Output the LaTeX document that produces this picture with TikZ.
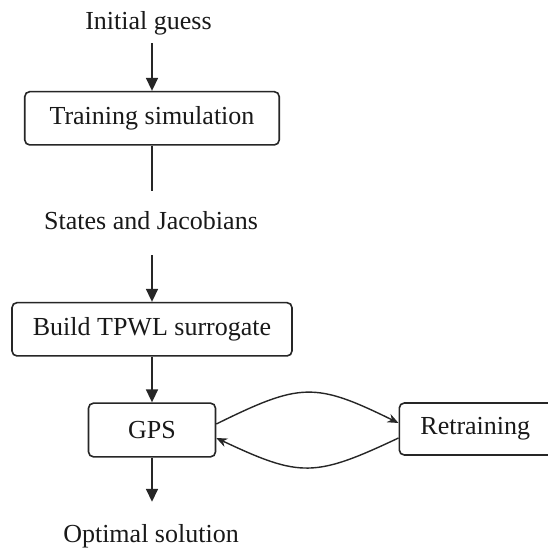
\documentclass[tikz,border=0pt]{standalone}
\usepackage{fontspec}
\setmainfont{Liberation Serif}
\usetikzlibrary{arrows.meta}
\begin{document}
\begin{tikzpicture}[x=1pt,y=1pt,
  every node/.style={font=\fontsize{26pt}{30pt}\selectfont, text=black!90},
  box/.style={draw=black!85, line width=1.6pt, rounded corners=5pt, inner sep=0pt},
  label/.style={inner sep=0pt, text height=18pt, text depth=6pt, anchor=base},
  conn/.style={draw=black!85, line width=1.6pt},
  arr/.style={conn, -{Triangle[length=13pt,width=12pt]}},
  carr/.style={conn, line width=1.4pt, -{Stealth[length=11pt,width=9pt]}}]
\clip (0,0) rectangle (548,552);
\fill[white] (0,0) rectangle (548,552);
% nodes
\node[label] (init) at (148.5,522.7) {Initial guess};
\node[box, minimum width=254.5pt, minimum height=53.3pt] (train) at (152,433.7) {Training simulation};
\node[label] (states) at (151,322) {States and Jacobians};
\node[box, minimum width=280pt, minimum height=53.3pt] (tpwl) at (152,222.7) {Build TPWL surrogate};
\node[box, minimum width=127pt, minimum height=53.7pt] (gps) at (152,122) {GPS};
\node[box, minimum width=160pt, minimum height=52pt, anchor=west] (retr) at (398.5,123) {\hspace*{-8pt}Retraining};
\node[label] (opt) at (151,9.3) {Optimal solution};
% connectors
\draw[arr, shorten <=7.7pt] (init.south -| train.north) -- (train.north);
\draw[conn, shorten >=21pt] (train.south) -- (states.north -| train.south);
\draw[arr, shorten <=19pt] (states.south -| tpwl.north) -- (tpwl.north);
\draw[arr] (tpwl.south) -- (gps.north);
\draw[arr, shorten >=22.7pt] (gps.south) -- (opt.north -| gps.south);
\draw[carr] ([yshift=6pt]gps.east) .. controls +(84,41.3) and +(-84,41.3) .. ([yshift=6pt]retr.west);
\draw[carr] ([yshift=-9pt]retr.west) .. controls +(-84,-39.6) and +(84,-39.6) .. ([yshift=-8pt]gps.east);
\end{tikzpicture}
\end{document}
